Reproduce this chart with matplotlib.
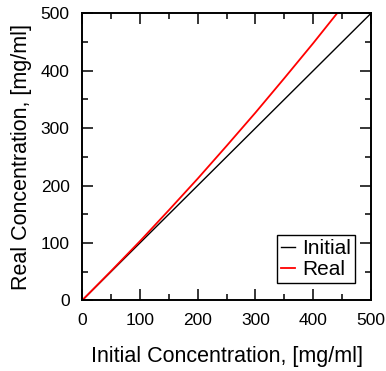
import matplotlib
matplotlib.use("Agg")
from matplotlib import pyplot as plt
from matplotlib.ticker import MultipleLocator

plt.rcParams["font.family"] = ["Liberation Sans", "DejaVu Sans"]

# values
initial_x = [0, 500]
initial_y = [0, 500]
real_x = [0, 50, 100, 150, 200, 250, 300, 350, 400, 450]
real_y = [0, 51, 103, 157, 212, 269, 327, 387, 448, 511]

fig = plt.figure(figsize=(3.86, 3.71), dpi=100)
ax = fig.add_axes([0.213, 0.1906, 0.748, 0.7734])

ax.plot(initial_x, initial_y, color="black", lw=1.0, label="Initial")
ax.plot(real_x, real_y, color="red", lw=1.3, label="Real")

ax.set_xlim(0, 500)
ax.set_ylim(0, 500)
ax.xaxis.set_major_locator(MultipleLocator(100))
ax.xaxis.set_minor_locator(MultipleLocator(50))
ax.yaxis.set_major_locator(MultipleLocator(100))
ax.yaxis.set_minor_locator(MultipleLocator(50))
ax.tick_params(which="both", direction="in", top=True, right=True,
               labelsize=12.5, pad=9, width=1.1)
ax.tick_params(which="major", length=8)
ax.tick_params(which="minor", length=4.3)
for s in ax.spines.values():
    s.set_linewidth(1.4)

ax.set_xlabel("Initial Concentration, [mg/ml]", fontsize=15.5, labelpad=13)
ax.set_ylabel("Real Concentration, [mg/ml]", fontsize=15.5, labelpad=6)

leg = ax.legend(loc="lower right", bbox_to_anchor=(0.9456, 0.0592),
                borderaxespad=0, fontsize=15, handlelength=0.65,
                handletextpad=0.35, borderpad=0.2, labelspacing=0.1,
                fancybox=False, framealpha=1)
leg.get_frame().set_edgecolor("black")
leg.get_frame().set_linewidth(1.0)

plt.savefig("out.png", dpi=100)
